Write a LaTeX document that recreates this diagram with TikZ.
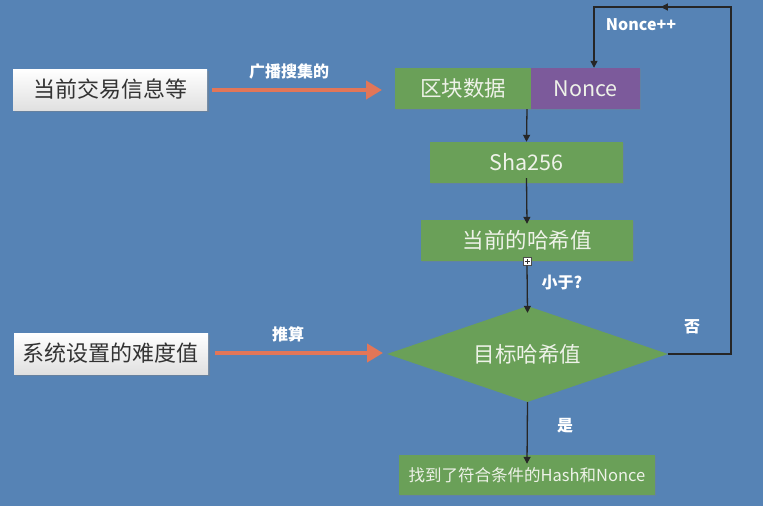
\documentclass[tikz,border=0pt]{standalone}
\usepackage{fontspec}
\setmainfont{Noto Sans CJK SC}
\usetikzlibrary{shapes.geometric,arrows.meta,shadows,decorations.markings}
\definecolor{bgblue}{RGB}{86,131,181}
\definecolor{boxgreen}{RGB}{106,160,88}
\definecolor{boxpurple}{RGB}{124,90,155}
\definecolor{arrowred}{RGB}{226,118,88}
\definecolor{textwhite}{RGB}{238,242,232}
\begin{document}
\begin{tikzpicture}[x=1pt,y=-1pt,
  whitebox/.style={draw=none,top color=white,bottom color=black!12,minimum width=194pt,minimum height=41pt,inner sep=0pt,font=\fontsize{22}{25}\selectfont,text=black!80,drop shadow={shadow xshift=1.5pt,shadow yshift=-1.5pt,opacity=0.4}},
  greenbox/.style={fill=boxgreen,draw=none,minimum height=41pt,inner sep=0pt,text=textwhite,font=\fontsize{21.5}{24}\selectfont,drop shadow={shadow xshift=1pt,shadow yshift=-1pt,opacity=0.3}},
  redarrow/.style={draw=arrowred,line width=4pt,-{Triangle[length=16pt,width=18pt]}},
  flow/.style={draw=black!85,line width=1.3pt,-{Triangle[length=7pt,width=7pt]}},
  lbl/.style={text=white,font=\bfseries\fontsize{16}{18}\selectfont}]
\fill[bgblue] (0,0) rectangle (763,506);
\useasboundingbox (0,0) rectangle (763,506);

\node[whitebox] (tx) at (110,89.5) {当前交易信息等};
\node[whitebox] (diff) at (111,353.5) {系统设置的难度值};

\node[greenbox,minimum width=136pt] (block) at (463,88.5) {区块数据};
\node[greenbox,fill=boxpurple,minimum width=109pt] (nonce) at (585.5,88.5) {Nonce};
\node[greenbox,minimum width=193pt] (sha) at (526.5,162.5) {Sha256};
\node[greenbox,minimum width=212pt] (cur) at (527,240.5) {当前的哈希值};
\node[diamond,fill=boxgreen,draw=none,aspect=2.93,minimum width=281pt,minimum height=96pt,inner sep=0pt,text=textwhite,font=\fontsize{21.5}{24}\selectfont] (target) at (527.5,354) {目标哈希值};
\node[greenbox,minimum width=256pt,minimum height=40pt,font=\fontsize{16.5}{19}\selectfont] (found) at (527,475) {找到了符合条件的Hash和Nonce};

\node[draw=black!70,fill=white,minimum size=8pt,inner sep=0pt] (handle) at (527,261.5) {};
\draw[black!80,line width=0.7pt] ([xshift=-2.5pt]handle.center) -- ([xshift=2.5pt]handle.center)
  ([yshift=-2.5pt]handle.center) -- ([yshift=2.5pt]handle.center);

\coordinate (txend) at (382,90);
\coordinate (txstart) at (212,90);
\draw[redarrow] (txstart) -- (txend);
\node[lbl] (l1) at (289,71) {广播搜集的};

\coordinate (dstart) at (215,353);
\coordinate (dend) at (383,353);
\draw[redarrow] (dstart) -- (dend);
\node[lbl] (l2) at (288,334) {推算};

\draw[flow] (block.south -| 527,0) -- (sha.north);
\draw[flow] ([yshift=5pt]sha.south) -- ([yshift=-4pt]cur.north);
\draw[flow] (handle.south) -- ([yshift=-7pt]target.north);
\node[lbl] (l3) at (562,283) {小于?};
\draw[flow] (target.south) -- ([yshift=-9pt]found.north);
\node[lbl] (l4) at (565,426) {是};

\coordinate (c1) at (731,354);
\coordinate (c2) at (731,7);
\coordinate (c3) at (594,7);
\draw[black!85,line width=1.3pt,-{Triangle[length=7pt,width=7pt]},
  postaction={decorate},
  decoration={markings,mark=at position 0.79 with {\arrow{Triangle[length=7pt,width=7pt]}}}]
  (target.east) -- (c1) -- (c2) -- (c3) -- (nonce.north -| c3);
\node[lbl] (l5) at (692,327) {否};
\node[lbl] (l6) at (641,25) {Nonce++};
\end{tikzpicture}
\end{document}
